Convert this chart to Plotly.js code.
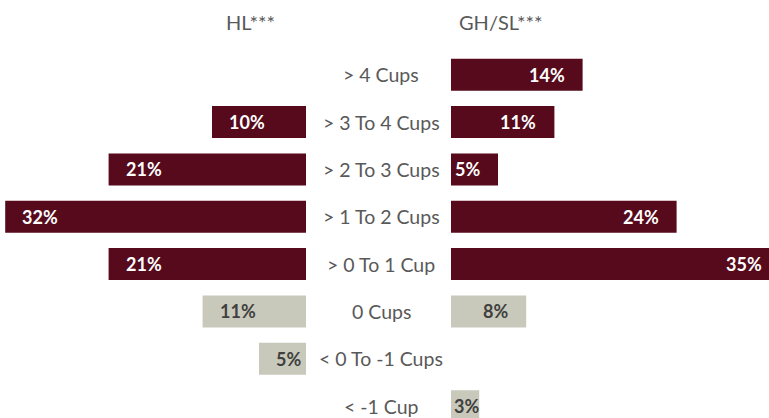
<!DOCTYPE html>
<html>
<head>
<meta charset="utf-8">
<script src="https://cdn.plot.ly/plotly-3.0.1.min.js"></script>
<style>
html, body { margin: 0; padding: 0; overflow: hidden; background: #ffffff; }
#chart { width: 790px; height: 418px; }
</style>
</head>
<body>
<div id="chart"></div>
<script>
// ---- data ----
const categories = ['> 4 Cups', '> 3 To 4 Cups', '> 2 To 3 Cups', '> 1 To 2 Cups',
                    '> 0 To 1 Cup', '0 Cups', '< 0 To -1 Cups', '< -1 Cup'];
const hlValues = [null, 10, 21, 32, 21, 11, 5, null];
const ghslValues = [14, 11, 5, 24, 35, 8, null, 3];
const changeGroup = ['up', 'up', 'up', 'up', 'up', 'flat', 'down', 'down'];
const seriesNames = ['HL***', 'GH/SL***'];

// ---- styles ----
const W = 790, H = 418;
const pxPerPct = 9.4;
const leftZeroPx = 306, rightZeroPx = 451, labelCenterPx = 381;
const colorFor = { up: '#570a1c', flat: '#c8c9bb', down: '#c8c9bb' };
const textColorFor = { up: '#ffffff', flat: '#404040', down: '#404040' };
const FONT = 'Lato, "Open Sans", sans-serif';
const minInside = 4;

const barColors = changeGroup.map(g => colorFor[g]);

const traces = [
  { type: 'bar', orientation: 'h', name: seriesNames[0], y: categories, x: hlValues,
    xaxis: 'x', yaxis: 'y', marker: { color: barColors, line: { width: 0 } }, hoverinfo: 'none' },
  { type: 'bar', orientation: 'h', name: seriesNames[1], y: categories, x: ghslValues,
    xaxis: 'x2', yaxis: 'y', marker: { color: barColors, line: { width: 0 } }, hoverinfo: 'none' }
];

const annotations = [];
categories.forEach((c, i) => {
  annotations.push({ xref: 'paper', yref: 'y', x: labelCenterPx / W, y: c, text: c,
    showarrow: false, xanchor: 'center', yanchor: 'middle',
    font: { family: FONT, size: 19.5, color: '#595959' } });
  const tf = { family: FONT, size: 18, color: textColorFor[changeGroup[i]], weight: 'bold' };
  const hv = hlValues[i];
  if (hv != null) {
    annotations.push({ xref: 'x', yref: 'y', x: hv, y: c, text: '<b>' + hv + '%</b>',
      showarrow: false, xanchor: 'left', yanchor: 'middle', xshift: 15, font: tf });
  }
  const gv = ghslValues[i];
  if (gv != null) {
    if (gv < minInside) {
      annotations.push({ xref: 'x2', yref: 'y', x: 0, y: c, text: '<b>' + gv + '%</b>',
        showarrow: false, xanchor: 'left', yanchor: 'middle', xshift: 1, font: tf });
    } else {
      annotations.push({ xref: 'x2', yref: 'y', x: gv, y: c, text: '<b>' + gv + '%</b>',
        showarrow: false, xanchor: 'right', yanchor: 'middle', xshift: -16, font: tf });
    }
  }
});
const headFont = { family: FONT, size: 20, color: '#595959' };
annotations.push({ xref: 'paper', yref: 'paper', x: 251 / W, y: 1.079, text: seriesNames[0],
  showarrow: false, xanchor: 'center', yanchor: 'middle', font: headFont });
annotations.push({ xref: 'paper', yref: 'paper', x: 500 / W, y: 1.079, text: seriesNames[1],
  showarrow: false, xanchor: 'center', yanchor: 'middle', font: headFont });

const layout = {
  width: W, height: H,
  margin: { l: 0, r: 0, t: 51, b: 0, pad: 0 },
  paper_bgcolor: '#ffffff', plot_bgcolor: 'rgba(0,0,0,0)',
  showlegend: false,
  bargap: 0.324,
  xaxis: { domain: [0, leftZeroPx / W], range: [leftZeroPx / pxPerPct, 0],
    visible: false, fixedrange: true },
  xaxis2: { domain: [rightZeroPx / W, 1], range: [0, (W - rightZeroPx) / pxPerPct],
    visible: false, fixedrange: true, anchor: 'y' },
  yaxis: { type: 'category', categoryorder: 'array', categoryarray: categories,
    range: [7.25, -0.5], visible: false, fixedrange: true },
  annotations: annotations
};

Plotly.newPlot('chart', traces, layout, { displayModeBar: false, staticPlot: true });
</script>
</body>
</html>
